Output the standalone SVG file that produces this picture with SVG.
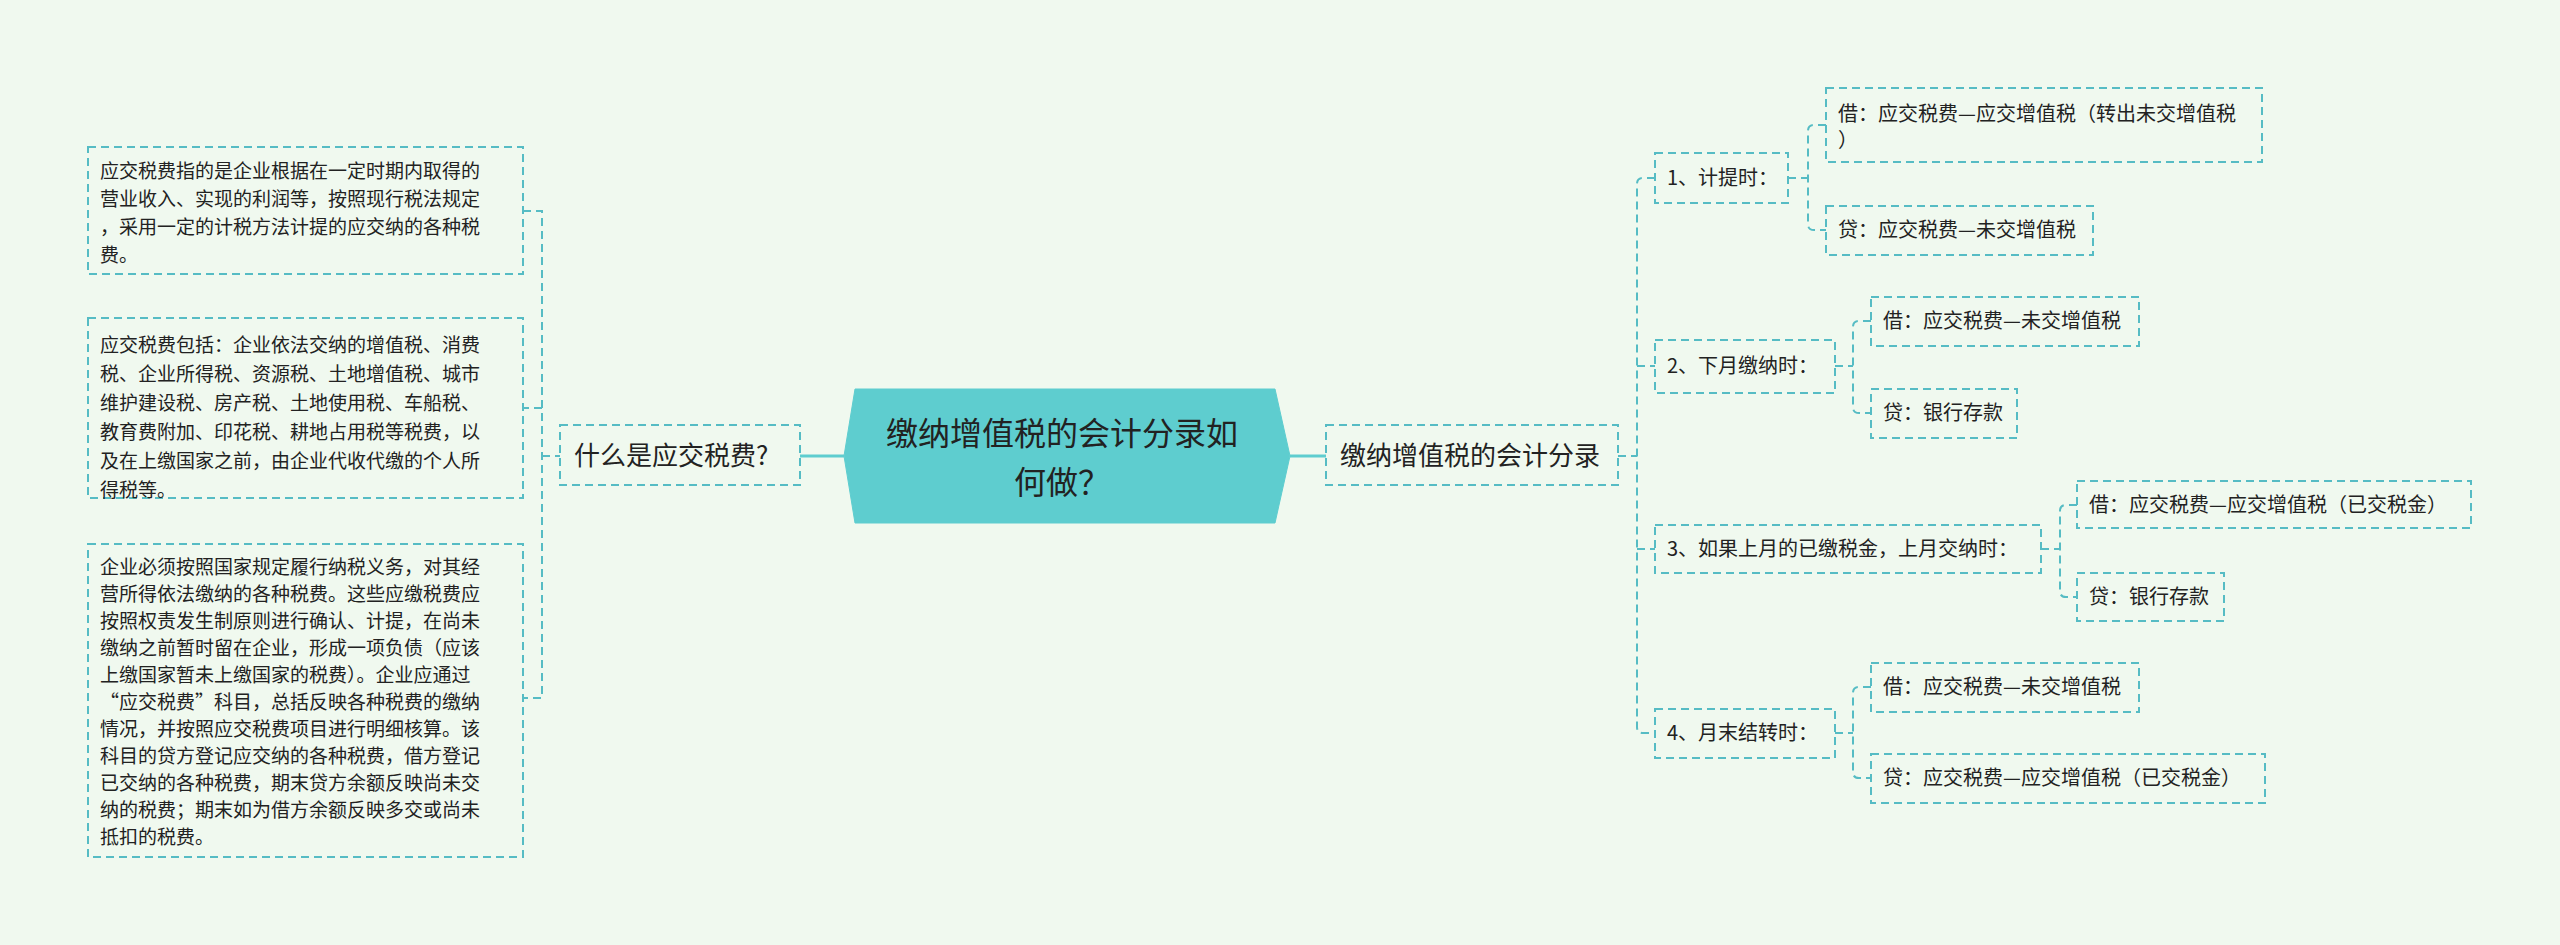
<svg xmlns="http://www.w3.org/2000/svg" width="2560" height="945" viewBox="0 0 2560 945">
<style>
text{font-family:"Noto Sans CJK SC","Liberation Sans",sans-serif;fill:#222}
.b{fill:none;stroke:#56bcc4;stroke-width:2;stroke-dasharray:8 5}
.c{fill:none;stroke:#56bcc4;stroke-width:2;stroke-dasharray:8 5}
.s{fill:none;stroke:#5ecdcf;stroke-width:3}
.t{font-size:19px}
.r{font-size:20px}
.m{font-size:26px}
</style>
<rect width="2560" height="945" fill="#f0f9ef"/>
<g id="connectors">
<path class="s" d="M800 456H844M1290 456H1326"/>
<path class="c" d="M523 211H542V698H523M542 408H523M542 456H560"/>
<path class="c" d="M1618 456H1637M1655 178H1643Q1637 178 1637 184V727Q1637 733 1643 733H1655M1637 366H1655M1637 549H1655"/>
<path class="c" d="M1788 178H1808M1826 125H1814Q1808 125 1808 131V224Q1808 230 1814 230H1826"/>
<path class="c" d="M1835 366H1853M1871 321H1859Q1853 321 1853 327V407Q1853 413 1859 413H1871"/>
<path class="c" d="M2041 549H2060M2077 505H2066Q2060 505 2060 511V591Q2060 597 2066 597H2077"/>
<path class="c" d="M1835 733H1853M1871 687H1859Q1853 687 1853 693V772Q1853 778 1859 778H1871"/>
</g>
<g id="center">
<polygon points="855,389 1275,389 1290,456 1275,523 855,523 844,456" fill="#5ecdcf" stroke="#5ecdcf"/>
<text x="1062" y="445" font-size="32" text-anchor="middle">缴纳增值税的会计分录如</text>
<text x="1062" y="494" font-size="32" text-anchor="middle">何做？</text>
</g>
<g id="left"><rect class="b" x="560" y="425" width="240" height="60"/><text class="m" x="574" y="465">什么是应交税费?</text></g>
<g id="lbox1"><rect class="b" x="88" y="147" width="435" height="127"/>
<text class="t" x="100" y="178">应交税费指的是企业根据在一定时期内取得的</text>
<text class="t" x="100" y="206">营业收入、实现的利润等，按照现行税法规定</text>
<text class="t" x="100" y="234">，采用一定的计税方法计提的应交纳的各种税</text>
<text class="t" x="100" y="262">费。</text></g>
<g id="lbox2"><rect class="b" x="88" y="318" width="435" height="180"/>
<text class="t" x="100" y="352">应交税费包括：企业依法交纳的增值税、消费</text>
<text class="t" x="100" y="381">税、企业所得税、资源税、土地增值税、城市</text>
<text class="t" x="100" y="410">维护建设税、房产税、土地使用税、车船税、</text>
<text class="t" x="100" y="439">教育费附加、印花税、耕地占用税等税费，以</text>
<text class="t" x="100" y="468">及在上缴国家之前，由企业代收代缴的个人所</text>
<text class="t" x="100" y="497">得税等。</text></g>
<g id="lbox3"><rect class="b" x="88" y="544" width="435" height="313"/>
<text class="t" x="100" y="574">企业必须按照国家规定履行纳税义务，对其经</text>
<text class="t" x="100" y="601">营所得依法缴纳的各种税费。这些应缴税费应</text>
<text class="t" x="100" y="628">按照权责发生制原则进行确认、计提，在尚未</text>
<text class="t" x="100" y="655">缴纳之前暂时留在企业，形成一项负债（应该</text>
<text class="t" x="100" y="682">上缴国家暂未上缴国家的税费）。企业应通过</text>
<text class="t" x="100" y="709">“应交税费”科目，总括反映各种税费的缴纳</text>
<text class="t" x="100" y="736">情况，并按照应交税费项目进行明细核算。该</text>
<text class="t" x="100" y="763">科目的贷方登记应交纳的各种税费，借方登记</text>
<text class="t" x="100" y="790">已交纳的各种税费，期末贷方余额反映尚未交</text>
<text class="t" x="100" y="817">纳的税费；期末如为借方余额反映多交或尚未</text>
<text class="t" x="100" y="844">抵扣的税费。</text></g>
<g id="right"><rect class="b" x="1326" y="425" width="292" height="60"/><text class="m" x="1340" y="465">缴纳增值税的会计分录</text></g>
<g id="n1"><rect class="b" x="1655" y="153" width="133" height="50"/><text class="r" x="1667" y="185">1、计提时：</text></g>
<g id="n2"><rect class="b" x="1655" y="340" width="180" height="53"/><text class="r" x="1667" y="373">2、下月缴纳时：</text></g>
<g id="n3"><rect class="b" x="1655" y="525" width="386" height="48"/><text class="r" x="1667" y="556">3、如果上月的已缴税金，上月交纳时：</text></g>
<g id="n4"><rect class="b" x="1655" y="709" width="180" height="49"/><text class="r" x="1667" y="740">4、月末结转时：</text></g>
<g id="n1a"><rect class="b" x="1826" y="88" width="436" height="74"/><text class="r" x="1838" y="121">借：应交税费—应交增值税（转出未交增值税</text><text class="r" x="1838" y="147">）</text></g>
<g id="n1b"><rect class="b" x="1826" y="206" width="267" height="49"/><text class="r" x="1838" y="237">贷：应交税费—未交增值税</text></g>
<g id="n2a"><rect class="b" x="1871" y="297" width="268" height="49"/><text class="r" x="1883" y="328">借：应交税费—未交增值税</text></g>
<g id="n2b"><rect class="b" x="1871" y="389" width="146" height="49"/><text class="r" x="1883" y="420">贷：银行存款</text></g>
<g id="n3a"><rect class="b" x="2077" y="481" width="394" height="47"/><text class="r" x="2089" y="512">借：应交税费—应交增值税（已交税金）</text></g>
<g id="n3b"><rect class="b" x="2077" y="573" width="147" height="48"/><text class="r" x="2089" y="604">贷：银行存款</text></g>
<g id="n4a"><rect class="b" x="1871" y="663" width="268" height="49"/><text class="r" x="1883" y="694">借：应交税费—未交增值税</text></g>
<g id="n4b"><rect class="b" x="1871" y="754" width="394" height="49"/><text class="r" x="1883" y="785">贷：应交税费—应交增值税（已交税金）</text></g>
</svg>
